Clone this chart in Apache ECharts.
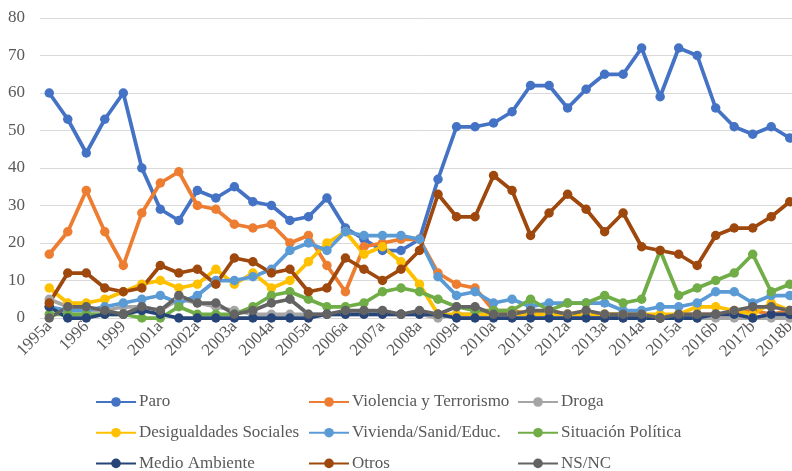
<!DOCTYPE html>
<html>
<head>
<meta charset="utf-8">
<script src="https://cdn.jsdelivr.net/npm/echarts@6/dist/echarts.min.js"></script>
<style>
html, body { margin: 0; padding: 0; background: #fff; }
#mychart { width: 792px; height: 471px; }
</style>
</head>
<body>
<div id="mychart"></div>
<script>
// categorías (se muestra una de cada dos)
var periodos = ['1995a', '1995b', '1996', '1998', '1999', '2000', '2001a', '2001b', '2002a', '2002b',
    '2003a', '2003b', '2004a', '2004b', '2005a', '2005b', '2006a', '2006b', '2007a', '2007b',
    '2008a', '2008b', '2009a', '2009b', '2010a', '2010b', '2011a', '2011b', '2012a', '2012b',
    '2013a', '2013b', '2014a', '2014b', '2015a', '2016a', '2016b', '2017a', '2017b', '2018a', '2018b'];

var paro = [60, 53, 44, 53, 60, 40, 29, 26, 34, 32, 35, 31, 30, 26, 27, 32, 24, 21, 18, 18,
    21, 37, 51, 51, 52, 55, 62, 62, 56, 61, 65, 65, 72, 59, 72, 70, 56, 51, 49, 51, 48];
var violencia = [17, 23, 34, 23, 14, 28, 36, 39, 30, 29, 25, 24, 25, 20, 22, 14, 7, 19, 20, 21,
    21, 12, 9, 8, 2, 2, 1, 2, 1, 1, 1, 1, 1, 0, 1, 1, 1, 1, 2, 1, 2];
var droga = [5, 3, 2, 2, 3, 3, 2, 5, 4, 3, 2, 1, 1, 1, 1, 1, 1, 1, 1, 1,
    1, 0, 1, 1, 1, 1, 1, 1, 1, 1, 0, 0, 0, 0, 0, 0, 0, 0, 0, 0, 0];
var desigualdades = [8, 4, 4, 5, 7, 9, 10, 8, 9, 13, 9, 12, 8, 10, 15, 20, 23, 17, 19, 15,
    9, 1, 1, 1, 1, 1, 1, 1, 1, 1, 1, 1, 1, 1, 1, 3, 3, 2, 1, 4, 2];
var vivienda = [3, 2, 2, 3, 4, 5, 6, 4, 6, 10, 10, 11, 13, 18, 20, 18, 23, 22, 22, 22,
    21, 11, 6, 7, 4, 5, 3, 4, 4, 4, 4, 2, 2, 3, 3, 4, 7, 7, 4, 6, 6];
var politica = [1, 1, 1, 1, 1, 0, 0, 3, 1, 1, 1, 3, 6, 7, 5, 3, 3, 4, 7, 8,
    7, 5, 3, 2, 2, 2, 5, 2, 4, 4, 6, 4, 5, 18, 6, 8, 10, 12, 17, 7, 9];
var medioAmbiente = [3, 0, 0, 1, 1, 2, 1, 0, 0, 0, 0, 0, 0, 0, 0, 1, 1, 1, 1, 1,
    1, 1, 0, 0, 0, 0, 0, 0, 0, 0, 0, 0, 0, 0, 0, 0, 1, 1, 0, 1, 1];
var otros = [4, 12, 12, 8, 7, 8, 14, 12, 13, 9, 16, 15, 12, 13, 7, 8, 16, 13, 10, 13,
    18, 33, 27, 27, 38, 34, 22, 28, 33, 29, 23, 28, 19, 18, 17, 14, 22, 24, 24, 27, 31];
var nsnc = [0, 3, 3, 2, 1, 3, 2, 6, 4, 4, 1, 2, 4, 5, 1, 1, 2, 2, 2, 1,
    2, 1, 3, 3, 1, 1, 2, 2, 1, 2, 1, 1, 1, 0, 1, 1, 1, 2, 3, 3, 2];

var nombres = ['Paro', 'Violencia y Terrorismo', 'Droga', 'Desigualdades Sociales',
    'Vivienda/Sanid/Educ.', 'Situación Política', 'Medio Ambiente', 'Otros', 'NS/NC'];
var valores = [paro, violencia, droga, desigualdades, vivienda, politica, medioAmbiente, otros, nsnc];
var colores = ['#4472C4', '#ED7D31', '#A5A5A5', '#FFC000', '#5B9BD5', '#70AD47', '#264478', '#9E480E', '#636363'];

var fuente = '"Liberation Serif", "Times New Roman", serif';

var series = [];
for (var i = 0; i < nombres.length; i++) {
    series.push({
        name: nombres[i],
        type: 'line',
        data: valores[i],
        symbol: 'circle',
        symbolSize: 9.5,
        lineStyle: { width: 3.75, color: colores[i] },
        itemStyle: { color: colores[i] },
        emphasis: { disabled: true }
    });
}

//leyenda en tres columnas
function leyenda(left, items) {
    return {
        orient: 'vertical',
        left: left,
        top: 392,
        height: 120,
        padding: 0,
        itemWidth: 40,
        itemHeight: 12,
        itemGap: 10.7,
        textStyle: { fontFamily: fuente, fontSize: 17, color: '#595959', lineHeight: 20, padding: [0, 0, 0, -2] },
        data: items
    };
}

var myChart = echarts.init(document.getElementById('mychart'));
myChart.setOption({
    animation: false,
    color: colores,
    grid: {
        left: 40,
        width: 759,
        top: 18,
        bottom: 153,
        outerBoundsMode: 'none'
    },
    legend: [
        leyenda(95, [nombres[0], nombres[3], nombres[6]]),
        leyenda(308, [nombres[1], nombres[4], nombres[7]]),
        leyenda(517, [nombres[2], nombres[5], nombres[8]])
    ],
    xAxis: {
        type: 'category',
        boundaryGap: true,
        data: periodos,
        axisLine: { lineStyle: { color: '#D9D9D9', width: 1 } },
        axisTick: { show: false },
        axisLabel: {
            interval: 1,
            rotate: 45,
            margin: 6,
            fontFamily: fuente,
            fontSize: 17,
            color: '#595959'
        }
    },
    yAxis: {
        type: 'value',
        min: 0,
        max: 80,
        interval: 10,
        axisLine: { show: false },
        axisTick: { show: false },
        splitLine: { lineStyle: { color: '#D9D9D9', width: 1 } },
        axisLabel: {
            margin: 15,
            fontFamily: fuente,
            fontSize: 17,
            color: '#595959'
        }
    },
    series: series
});
</script>
</body>
</html>
